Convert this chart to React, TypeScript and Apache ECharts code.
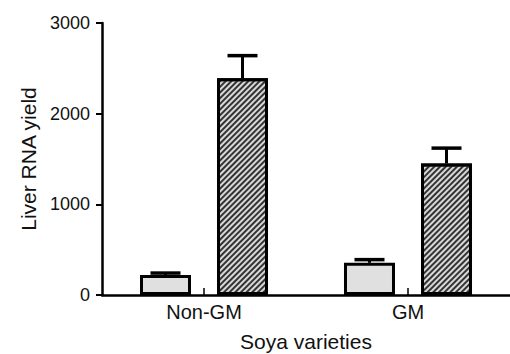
import React, { useEffect, useRef } from "react";
import * as echarts from "echarts";

const categories = ["Non-GM", "GM"];
const plainValues = [220, 355];
const plainErrors = [22, 35];
const hatchedValues = [2390, 1450];
const hatchedErrors = [250, 170];
const yTicks = [0, 1000, 2000, 3000];

export default function App() {
  const ref = useRef<HTMLDivElement>(null);
  useEffect(() => {
    if (!ref.current) return;
    const chart = echarts.init(ref.current, null, { renderer: "svg" });
    const font = "Liberation Sans, Arial, Helvetica, sans-serif";
    const barW = 51;
    const offset = 38.5;
    const errData = [
      ...plainValues.map((v, i) => [i, v, plainErrors[i], -1]),
      ...hatchedValues.map((v, i) => [i, v, hatchedErrors[i], 1]),
    ];
    chart.setOption({
      animation: false,
      grid: { left: 102, right: 0, top: 23, bottom: 59, containLabel: false, outerBoundsMode: "none" },
      xAxis: {
        type: "category",
        data: categories,
        name: "Soya varieties",
        nameLocation: "middle",
        nameGap: 36,
        nameTextStyle: { fontFamily: font, fontSize: 21, color: "#111" },
        axisLine: { show: true, lineStyle: { color: "#000", width: 2.5 } },
        axisTick: { show: true, inside: true, alignWithLabel: true, length: 7, lineStyle: { color: "#000", width: 1.5 } },
        axisLabel: { fontFamily: font, fontSize: 20, color: "#111", margin: 7 },
        splitLine: { show: false },
      },
      yAxis: {
        type: "value",
        min: yTicks[0],
        max: yTicks[yTicks.length - 1],
        interval: 1000,
        name: "Liver RNA yield",
        nameLocation: "middle",
        nameGap: 63,
        nameTextStyle: { fontFamily: font, fontSize: 21, color: "#111" },
        axisLine: { show: true, lineStyle: { color: "#000", width: 2.5 } },
        axisTick: { show: true, length: 6, lineStyle: { color: "#000", width: 2 } },
        axisLabel: { fontFamily: font, fontSize: 18, color: "#111", margin: 12, formatter: (v: number) => String(v) },
        splitLine: { show: false },
      },
      series: [
        {
          type: "bar",
          data: plainValues,
          barWidth: barW,
          barGap: "51%",
          itemStyle: { color: "#e0e0e0", borderColor: "#000", borderWidth: 3 },
          z: 3,
        },
        {
          type: "bar",
          data: hatchedValues,
          barWidth: barW,
          itemStyle: {
            color: "#d8d8d8",
            borderColor: "#000",
            borderWidth: 3,
            decal: {
              symbol: "rect",
              symbolSize: 1,
              dashArrayX: [1, 0],
              dashArrayY: [1.2, 1.1],
              rotation: -Math.PI / 4,
              color: "#333",
            },
          },
          z: 3,
        },
        {
          type: "custom",
          data: errData,
          z: 2,
          renderItem: (params: any, api: any) => {
            const c = api.value(0);
            const v = api.value(1);
            const e = api.value(2);
            const side = api.value(3);
            const base = api.coord([c, v]);
            const top = api.coord([c, v + e]);
            const x = base[0] + side * offset;
            return {
              type: "group",
              children: [
                { type: "line", shape: { x1: x, y1: base[1], x2: x, y2: top[1] }, style: { stroke: "#000", lineWidth: 3 } },
                { type: "line", shape: { x1: x - 15, y1: top[1], x2: x + 15, y2: top[1] }, style: { stroke: "#000", lineWidth: 3.5 } },
              ],
            };
          },
        },
      ],
    });
    return () => chart.dispose();
  }, []);
  return <div ref={ref} style={{ width: 510, height: 354, position: "absolute", left: 0, top: 0 }} />;
}
